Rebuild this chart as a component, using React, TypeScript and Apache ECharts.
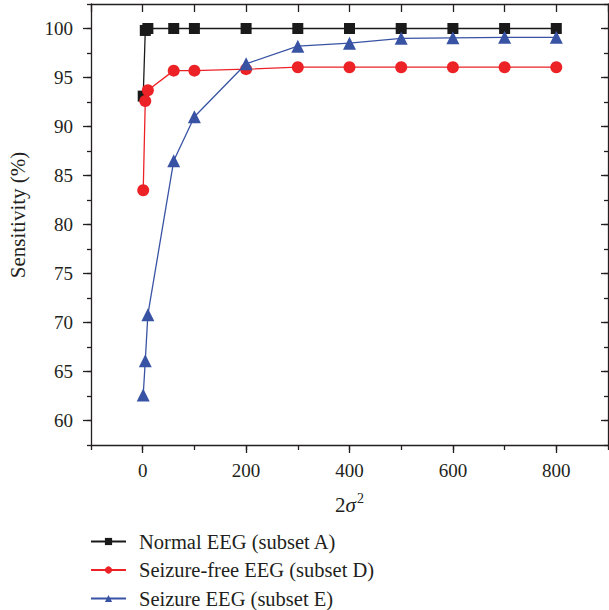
import React, { useEffect, useRef } from "react";
import * as echarts from "echarts";

const xValues = [1, 5, 10, 60, 100, 200, 300, 400, 500, 600, 700, 800];
const normalA = [93.1, 99.8, 100, 100, 100, 100, 100, 100, 100, 100, 100, 100];
const seizureFreeD = [83.5, 92.6, 93.7, 95.7, 95.7, 95.85, 96.05, 96.05, 96.05, 96.05, 96.05, 96.05];
const seizureE = [62.6, 66.1, 70.8, 86.5, 91.0, 96.4, 98.2, 98.5, 99.0, 99.05, 99.1, 99.1];
const seriesNames = ["Normal EEG (subset A)", "Seizure-free EEG (subset D)", "Seizure EEG (subset E)"];
const xTickLabels = [0, 200, 400, 600, 800];
const yTickLabels = [60, 65, 70, 75, 80, 85, 90, 95, 100];
const yAxisTitle = "Sensitivity (%)";

const FONT = "Liberation Serif";
const INK = "#231f20";

export default function App() {
  const ref = useRef<HTMLDivElement>(null);
  useEffect(() => {
    if (!ref.current) return;
    const chart = echarts.init(ref.current, null, { renderer: "svg" });
    const pair = (ys: number[]) => xValues.map((x, i) => [x, ys[i]]);
    const lineStyle = { color: INK, width: 1.3 };
    const hiddenBase = {
      type: "value" as const,
      min: -100,
      max: 900,
      axisLabel: { show: false },
      splitLine: { show: false },
    };
    const yBase = {
      type: "value" as const,
      min: 57.5,
      max: 102.5,
      splitLine: { show: false },
    };
    chart.setOption({
      animation: false,
      backgroundColor: "#ffffff",
      grid: { left: 91, right: 1, top: 4, bottom: 165, containLabel: false },
      xAxis: [
        {
          ...hiddenBase,
          position: "bottom",
          axisLine: { show: true, onZero: false, lineStyle },
          axisTick: { show: true, length: 8, lineStyle, customValues: xTickLabels },
          axisLabel: {
            show: true,
            customValues: xTickLabels,
            margin: 16,
            fontFamily: FONT,
            fontSize: 19,
            color: INK,
          },
          name: "{a|2}{b|σ}{c|2}",
          nameLocation: "middle",
          nameGap: 46,
          nameTextStyle: {
            rich: {
              a: { fontFamily: FONT, fontSize: 21, color: INK },
              b: { fontFamily: FONT, fontSize: 21, fontStyle: "italic", color: INK },
              c: { fontFamily: FONT, fontSize: 14, color: INK, padding: [0, 0, 14, 1] },
            },
          },
        },
        {
          ...hiddenBase,
          position: "bottom",
          interval: 100,
          axisLine: { show: false, onZero: false },
          axisTick: { show: true, length: 5, lineStyle },
        },
        {
          ...hiddenBase,
          position: "top",
          interval: 100,
          axisLine: { show: true, onZero: false, lineStyle },
          axisTick: { show: true, inside: true, length: 8, lineStyle },
        },
      ],
      yAxis: [
        {
          ...yBase,
          position: "left",
          axisLine: { show: true, onZero: false, lineStyle },
          axisTick: { show: true, length: 8, lineStyle, customValues: yTickLabels },
          axisLabel: {
            show: true,
            customValues: yTickLabels,
            margin: 18,
            fontFamily: FONT,
            fontSize: 19,
            color: INK,
          },
        },
        {
          ...yBase,
          position: "left",
          interval: 2.5,
          axisLine: { show: false, onZero: false },
          axisTick: { show: true, length: 4, lineStyle },
          axisLabel: { show: false },
        },
        {
          ...yBase,
          position: "right",
          axisLine: { show: true, onZero: false, lineStyle },
          axisTick: { show: true, inside: true, length: 7, lineStyle, customValues: yTickLabels },
          axisLabel: { show: false },
        },
        {
          ...yBase,
          position: "right",
          interval: 2.5,
          axisLine: { show: false, onZero: false },
          axisTick: { show: true, inside: true, length: 4, lineStyle },
          axisLabel: { show: false },
        },
      ],
      graphic: [
        {
          type: "text",
          x: 18,
          y: 215,
          rotation: Math.PI / 2,
          style: {
            text: yAxisTitle,
            fontFamily: FONT,
            fontSize: 21,
            fill: INK,
            align: "center",
            verticalAlign: "middle",
          },
        },
      ],
      legend: {
        orient: "vertical",
        left: 90,
        top: 531,
        height: 100,
        padding: 0,
        itemWidth: 35,
        itemHeight: 9,
        itemGap: 7.5,
        data: seriesNames,
        textStyle: { fontFamily: FONT, fontSize: 20.5, color: INK, lineHeight: 19, padding: [0, 0, 0, 8] },
      },
      series: [
        {
          name: seriesNames[0],
          type: "line",
          data: pair(normalA),
          symbol: "rect",
          symbolSize: 11,
          itemStyle: { color: "#1a1a1a" },
          lineStyle: { color: "#1a1a1a", width: 1.3 },
        },
        {
          name: seriesNames[1],
          type: "line",
          data: pair(seizureFreeD),
          symbol: "circle",
          symbolSize: 12,
          itemStyle: { color: "#ec2227" },
          lineStyle: { color: "#ec2227", width: 1.3 },
        },
        {
          name: seriesNames[2],
          type: "line",
          data: pair(seizureE),
          symbol: "triangle",
          symbolSize: 13,
          itemStyle: { color: "#3953a4" },
          lineStyle: { color: "#3953a4", width: 1.3 },
        },
      ],
    });
    return () => chart.dispose();
  }, []);
  return (
    <div
      ref={ref}
      style={{ position: "fixed", left: 0, top: 0, width: 609, height: 610, background: "#fff" }}
    />
  );
}
